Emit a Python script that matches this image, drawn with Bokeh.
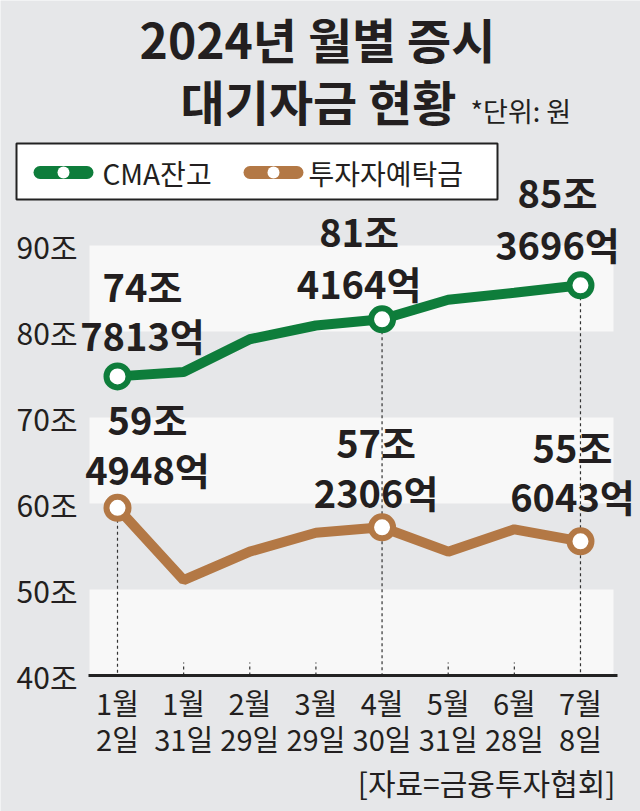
from bokeh.plotting import figure
from bokeh.models import Range1d
from bokeh.core.properties import value
from bokeh.embed import file_html
from bokeh.resources import INLINE

# ---------------- data ----------------
months = ["1월", "1월", "2월", "3월", "4월", "5월", "6월", "7월"]
days = ["2일", "31일", "29일", "29일", "30일", "31일", "28일", "8일"]
cma = [74.7813, 75.3, 79.1, 80.7, 81.4164, 83.7, 84.5, 85.3696]      # 조 원
deposit = [59.4948, 51.1, 54.4, 56.6, 57.2306, 54.4, 57.0, 55.6043]  # 조 원
marked_idx = [0, 4, 7]
y_ticks = [40, 50, 60, 70, 80, 90]
y_tick_labels = ["40조", "50조", "60조", "70조", "80조", "90조"]
series_names = ["CMA잔고", "투자자예탁금"]
title1 = "2024년 월별 증시"
title2 = "대기자금 현황"
unit_note = "*단위: 원"
source_note = "[자료=금융투자협회]"

# ---------------- style / layout ----------------
W, H = 640, 811
PX_PER_X = 66.14
PX_PER_Y = 8.6
X0 = -117 / PX_PER_X
X1 = X0 + W / PX_PER_X
Y1 = 40 + 675 / PX_PER_Y
Y0 = Y1 - H / PX_PER_Y

def sx(px):
    return X0 + px / PX_PER_X

def sy(py):
    return Y1 - py / PX_PER_Y

BG = "#e6e7e9"
BAND = "#f8f8f8"
GREEN = "#0e7d3b"
BROWN = "#b37845"
INK = "#231f20"
FONT = value("Noto Sans CJK KR")

p = figure(width=W, height=H, x_range=Range1d(X0, X1), y_range=Range1d(Y0, Y1),
           output_backend="svg", toolbar_location=None, min_border=0,
           x_axis_location=None, y_axis_location=None,
           background_fill_color=BG, border_fill_color=BG, outline_line_color=None)
p.xgrid.grid_line_color = None
p.ygrid.grid_line_color = None

xs = list(range(len(months)))

# background bands (40-50, 60-70, 80-90)
band_bottoms = y_ticks[0:-1:2]
band_tops = [b + 10 for b in band_bottoms]
p.quad(left=[sx(89)] * len(band_bottoms), right=[sx(613)] * len(band_bottoms),
       bottom=band_bottoms, top=band_tops, fill_color=BAND, line_color=None)

# drop lines
drop_top = [deposit[0], cma[4], cma[7]]
p.segment(x0=marked_idx, x1=marked_idx, y0=drop_top, y1=[40] * 3,
          line_color="#333333", line_width=1.2, line_dash="3 3")
other_idx = [i for i in xs if i not in marked_idx]
p.segment(x0=other_idx, x1=other_idx, y0=[40] * len(other_idx),
          y1=[40 + 13 / PX_PER_Y] * len(other_idx),
          line_color="#333333", line_width=1.2, line_dash="3 3")

# x axis line
p.segment(x0=[sx(88)], x1=[sx(617)], y0=[40], y1=[40], line_color="#222222", line_width=3)

# series lines
p.line(xs, deposit, line_color=BROWN, line_width=10)
p.line(xs, cma, line_color=GREEN, line_width=10)
p.scatter([xs[i] for i in marked_idx], [deposit[i] for i in marked_idx], size=22,
          fill_color="white", line_color=BROWN, line_width=6)
p.scatter([xs[i] for i in marked_idx], [cma[i] for i in marked_idx], size=22,
          fill_color="white", line_color=GREEN, line_width=6)

# data labels
def jo(v):
    return f"{int(v)}조"

def eok(v):
    return f"{round((v - int(v)) * 10000)}억"

cma_off_x = [25, -23, -23]
cma_off_y1 = [-91, -89, -94]
cma_off_y2 = [-42, -37, -42]
dep_off_x = [30, -6, -8]
dep_off_y1 = [-89, -86, -95]
dep_off_y2 = [-39, -36, -46]

for vals, ox, oy1, oy2 in [(cma, cma_off_x, cma_off_y1, cma_off_y2),
                           (deposit, dep_off_x, dep_off_y1, dep_off_y2)]:
    lx = [marked_idx[k] + ox[k] / PX_PER_X for k in range(3)]
    ly1 = [vals[marked_idx[k]] - oy1[k] / PX_PER_Y for k in range(3)]
    ly2 = [vals[marked_idx[k]] - oy2[k] / PX_PER_Y for k in range(3)]
    p.text(lx, ly1, text=[jo(vals[i]) for i in marked_idx], text_align="center",
           text_baseline="middle", text_font=FONT, text_font_size="38px",
           text_font_style="bold", text_color=INK)
    p.text(lx, ly2, text=[eok(vals[i]) for i in marked_idx], text_align="center",
           text_baseline="middle", text_font=FONT, text_font_size="38px",
           text_font_style="bold", text_color=INK)

# y tick labels
p.text([sx(77)] * len(y_ticks), y_ticks, text=y_tick_labels, text_align="right",
       text_baseline="middle", text_font=FONT, text_font_size="30px", text_color=INK)

# x tick labels
p.text(xs, [sy(701)] * len(xs), text=months, text_align="center", text_baseline="middle",
       text_font=FONT, text_font_size="29px", text_color=INK)
p.text(xs, [sy(737)] * len(xs), text=days, text_align="center", text_baseline="middle",
       text_font=FONT, text_font_size="29px", text_color=INK)

# titles
p.text([sx(317)], [sy(37)], text=[title1], text_align="center", text_baseline="middle",
       text_font=FONT, text_font_size="48px", text_font_style="bold", text_color=INK)
p.text([sx(318)], [sy(99)], text=[title2], text_align="center", text_baseline="middle",
       text_font=FONT, text_font_size="48px", text_font_style="bold", text_color=INK)
p.text([sx(470)], [sy(110)], text=[unit_note], text_align="left", text_baseline="middle",
       text_font=FONT, text_font_size="27px", text_color=INK)

# legend box
p.quad(left=[sx(16)], right=[sx(497)], top=[sy(143)], bottom=[sy(199)],
       fill_color="white", line_color="#222222", line_width=2)
leg_colors = [GREEN, BROWN]
pill_left = [39.5, 249.5]
pill_right = [86.5, 296.5]
pill_mid = [63, 273]
text_left = [102, 308]
for k in range(2):
    p.segment(x0=[sx(pill_left[k])], x1=[sx(pill_right[k])], y0=[sy(172)], y1=[sy(172)],
              line_color=leg_colors[k], line_width=13, line_cap="round")
    p.scatter([sx(pill_mid[k])], [sy(172)], size=12, fill_color="white", line_color=None)
    p.text([sx(text_left[k])], [sy(172)], text=[series_names[k]], text_align="left",
           text_baseline="middle", text_font=FONT, text_font_size="28px", text_color=INK)

# source
p.text([sx(615)], [sy(781)], text=[source_note], text_align="right", text_baseline="middle",
       text_font=FONT, text_font_size="30px", text_color=INK)

open("out.html", "w").write(file_html(p, INLINE))
